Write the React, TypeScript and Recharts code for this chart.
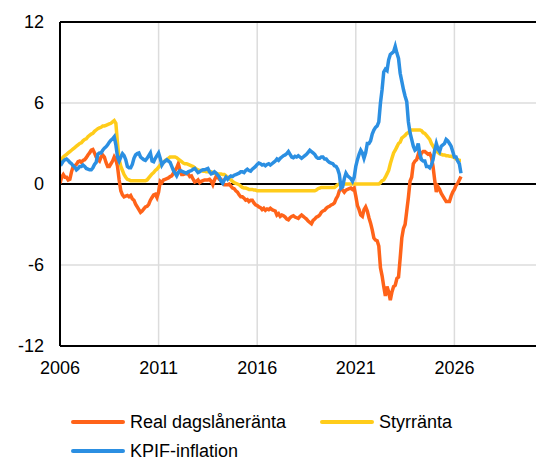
import React from 'react';
import { LineChart, Line, XAxis, YAxis, CartesianGrid, ReferenceLine } from 'recharts';

// monthly observations, Jan 2006 – May 2026
const START_YEAR = 2006;

const realRate = [
  0.05, 0.5, 0.7, 0.5, 0.5, 0.3, 0.35, 0.9, 1.3, 1.35, 1.45, 1.65,
  1.7, 1.6, 1.75, 1.8, 1.95, 2.15, 2.3, 2.5, 2.55, 2.3, 2.0, 1.8,
  1.7, 2.0, 2.15, 2.0, 1.6, 1.3, 1.3, 1.5, 1.7, 2.0, 1.8, 1.3,
  0.3, -0.5, -0.8, -0.95, -0.9, -0.85, -0.95, -0.85, -1.1, -1.2, -1.5, -1.7,
  -1.9, -2.1, -2.0, -1.85, -1.7, -1.65, -1.5, -1.2, -1.0, -0.8, -0.75, -1.0,
  -0.6, 0.2, 0.1, 0.3, 0.35, 0.4, 0.45, 0.55, 0.6, 0.8, 1.0, 1.2,
  1.5, 1.0, 0.7, 0.7, 0.75, 0.8, 0.75, 0.55, 0.6, 0.35, 0.15, 0.2,
  0.3, 0.1, 0.2, 0.25, 0.3, 0.3, 0.3, 0.35, 0.2, -0.05, 0.3, 0.55,
  0.5, 0.35, 0.35, 0.1, -0.05, -0.05, -0.05, 0.0, -0.15, -0.3, -0.35, -0.5,
  -0.6, -0.8, -0.95, -0.95, -1.05, -1.2, -1.15, -1.3, -1.2, -1.2, -1.4, -1.55,
  -1.6, -1.7, -1.75, -1.9, -1.8, -1.95, -1.85, -1.9, -1.8, -1.9, -1.95, -2.0,
  -2.3, -2.2, -2.4, -2.3, -2.35, -2.45, -2.6, -2.65, -2.5, -2.4, -2.35, -2.45,
  -2.5, -2.55, -2.4, -2.3, -2.4, -2.5, -2.6, -2.75, -2.85, -2.95, -2.7, -2.6,
  -2.45, -2.4, -2.3, -2.1, -2.0, -1.95, -1.8, -1.7, -1.65, -1.55, -1.5, -1.4,
  -1.1, -0.9, -0.5, -0.35, -0.45, -0.6, -0.45, -0.4, -0.35, -0.3, -0.4, -0.3,
  -0.9, -1.6, -1.9, -2.3, -2.4, -1.9, -1.7, -2.0, -2.5, -2.9, -3.4, -4.0,
  -4.15, -4.2, -4.6, -6.2, -6.8, -7.6, -8.3, -7.6, -8.0, -8.6, -8.0, -7.6,
  -7.5, -7.0, -6.9, -5.5, -4.0, -3.3, -3.0, -2.0, -1.0, 0.2, 0.5, 1.5,
  1.7, 1.8, 2.2, 2.0, 2.3, 2.4, 2.4, 2.3, 2.2, 2.25, 2.0, 1.3,
  0.3, -0.6, -0.2, -0.4, -0.7, -0.9, -1.1, -1.3, -1.3, -1.3, -0.9, -0.6,
  -0.4, -0.1, 0.05, 0.3, 0.55,
];

const styrranta = [
  1.75, 1.85, 2.0, 2.1, 2.2, 2.3, 2.4, 2.5, 2.6, 2.7, 2.8, 2.9,
  3.0, 3.05, 3.2, 3.3, 3.35, 3.5, 3.6, 3.7, 3.75, 3.9, 4.0, 4.1,
  4.15, 4.2, 4.3, 4.3, 4.35, 4.4, 4.45, 4.5, 4.6, 4.7, 4.5, 3.0,
  1.8, 1.3, 1.0, 0.7, 0.5, 0.35, 0.3, 0.25, 0.25, 0.25, 0.25, 0.25,
  0.25, 0.25, 0.25, 0.25, 0.25, 0.3, 0.45, 0.6, 0.75, 0.85, 1.0, 1.1,
  1.25, 1.4, 1.5, 1.6, 1.75, 1.8, 1.9, 2.0, 2.0, 2.0, 2.0, 1.95,
  1.85, 1.75, 1.65, 1.55, 1.5, 1.5, 1.45, 1.4, 1.35, 1.3, 1.2, 1.1,
  1.05, 1.0, 1.0, 0.95, 0.95, 0.9, 0.9, 0.9, 0.9, 0.85, 0.8, 0.8,
  0.75, 0.75, 0.75, 0.7, 0.7, 0.6, 0.5, 0.4, 0.3, 0.2, 0.1, 0.05,
  0.0, -0.05, -0.15, -0.25, -0.3, -0.3, -0.35, -0.4, -0.4, -0.4, -0.45, -0.45,
  -0.5, -0.5, -0.5, -0.5, -0.5, -0.5, -0.5, -0.5, -0.5, -0.5, -0.5, -0.5,
  -0.5, -0.5, -0.5, -0.5, -0.5, -0.5, -0.5, -0.5, -0.5, -0.5, -0.5, -0.5,
  -0.5, -0.5, -0.5, -0.5, -0.5, -0.5, -0.5, -0.5, -0.5, -0.5, -0.5, -0.5,
  -0.45, -0.35, -0.3, -0.25, -0.25, -0.25, -0.25, -0.25, -0.25, -0.25, -0.25, -0.25,
  -0.15, -0.05, 0, 0, 0, 0, 0, 0, 0, 0, 0, 0,
  0, 0, 0, 0, 0, 0, 0, 0, 0, 0, 0, 0,
  0, 0, 0, 0.1, 0.25, 0.3, 0.5, 0.75, 1.0, 1.5, 1.9, 2.3,
  2.5, 2.75, 3.0, 3.1, 3.4, 3.5, 3.6, 3.75, 3.8, 3.95, 4.0, 4.0,
  4.0, 4.0, 4.0, 4.0, 3.95, 3.8, 3.75, 3.6, 3.45, 3.3, 3.0, 2.8,
  2.6, 2.45, 2.35, 2.25, 2.2, 2.15, 2.15, 2.1, 2.1, 2.05, 2.05, 2.0,
  1.95, 1.85, 1.8, 1.75, 1.75,
];

const kpif = [
  1.65, 1.5, 1.7, 1.8, 1.85, 1.75, 1.6, 1.5, 1.35, 1.25, 1.05, 1.15,
  1.3, 1.3, 1.4, 1.3, 1.15, 1.1, 1.05, 1.05, 1.2, 1.45, 1.6, 2.2,
  2.3, 2.3, 2.5, 2.65, 2.75, 2.9, 3.1, 3.25, 3.35, 3.5, 2.9, 2.0,
  1.7, 2.0, 2.25, 2.1, 1.8, 1.3, 1.2, 1.2, 1.45, 1.9, 2.15, 2.25,
  2.3, 2.0, 1.9, 1.8, 1.75, 1.9, 2.1, 2.3, 1.7, 1.65, 1.9, 2.1,
  2.3, 1.9, 1.4, 1.6, 1.7, 1.8, 1.7, 1.6, 1.3, 1.0, 0.8, 0.6,
  0.85, 1.0, 0.95, 0.9, 0.85, 0.8, 0.9, 0.95, 1.0, 1.1, 1.15, 1.0,
  0.85, 0.9, 1.0, 1.05, 1.05, 1.1, 1.15, 0.9, 0.75, 0.8, 0.9, 0.8,
  0.65, 0.5, 0.2, 0.05, 0.3, 0.5, 0.35, 0.5, 0.6, 0.55, 0.65, 0.7,
  0.75, 0.8, 0.9, 0.9, 0.85, 1.0, 1.1, 1.0, 0.95, 1.1, 1.2, 1.3,
  1.45, 1.55, 1.5, 1.4, 1.45, 1.35, 1.45, 1.5, 1.4, 1.5, 1.6, 1.7,
  1.85, 1.75, 1.9, 2.0, 2.1, 2.15, 2.25, 2.4, 2.2, 2.0, 1.95, 2.05,
  2.0, 2.1, 2.0, 1.9, 2.0, 2.1, 2.2, 2.35, 2.5, 2.4, 2.3, 2.2,
  2.0, 1.9, 1.9, 2.0, 2.0, 1.85, 1.85, 1.7, 1.6, 1.55, 1.5, 1.35,
  1.3, 1.1, 0.7, -0.3, -0.2, 0.4, 0.8, 0.6, 0.5, 0.4, 0.2, 0.5,
  1.3, 1.8, 2.2, 2.5, 2.3, 1.9, 2.3, 3.0, 3.0, 3.2, 3.7, 4.0,
  4.2, 4.3, 4.6, 6.0, 7.0, 8.3, 8.5, 8.4, 9.2, 9.6, 9.7, 9.8,
  10.2, 9.7, 9.3, 8.2, 7.6, 7.0, 6.5, 6.1, 4.6, 3.8, 3.3, 2.8,
  2.5, 2.6, 3.0, 2.2, 1.8, 1.7, 1.7, 1.3, 1.3, 1.2, 1.4, 1.8,
  2.5, 3.0, 2.6, 2.4, 2.8, 2.9, 3.0, 3.3, 3.2, 3.0, 2.8, 2.4,
  2.0, 2.0, 1.7, 1.5, 0.8,
];

const xTicks = [2006, 2011, 2016, 2021, 2026];
const yTicks = [-12, -6, 0, 6, 12];

const series = [
  { key: 'real', name: 'Real dagslåneränta', color: '#ff6319' },
  { key: 'styr', name: 'Styrränta', color: '#ffcc1a' },
  { key: 'kpif', name: 'KPIF-inflation', color: '#2b8fe2' },
];

const data = kpif.map((v, i) => ({
  t: START_YEAR + i / 12,
  real: realRate[i],
  styr: styrranta[i],
  kpif: v,
}));

const font = '"Liberation Sans", Arial, sans-serif';
const tickStyle = { fill: '#000', fontSize: 18, fontFamily: font };

const legendPos = [
  { left: 63, top: 402 },
  { left: 312, top: 402 },
  { left: 63, top: 431 },
];

export default function App() {
  return (
    <div style={{ position: 'relative', width: 536, height: 450, overflow: 'hidden', fontFamily: font }}>
      <LineChart width={560} height={380} data={data} margin={{ top: 14, right: 15, bottom: 12, left: 0 }}>
        <CartesianGrid stroke="#dcdcdc" strokeWidth={1.5} />
        <XAxis
          type="number"
          dataKey="t"
          domain={[2006, 2031]}
          ticks={xTicks}
          allowDataOverflow
          tick={tickStyle}
          tickLine={false}
          tickSize={0}
          tickMargin={15}
          height={30}
          axisLine={{ stroke: '#000', strokeWidth: 2 }}
        />
        <YAxis
          domain={[-12, 12]}
          ticks={yTicks}
          tick={tickStyle}
          tickLine={false}
          tickSize={0}
          tickMargin={16}
          width={52}
          axisLine={{ stroke: '#000', strokeWidth: 2 }}
        />
        <ReferenceLine y={12} stroke="#000" strokeWidth={2} />
        <ReferenceLine y={0} stroke="#000" strokeWidth={2} />
        {series.map(s => (
          <Line
            key={s.key}
            type="linear"
            dataKey={s.key}
            name={s.name}
            stroke={s.color}
            strokeWidth={3.5}
            dot={false}
            isAnimationActive={false}
          />
        ))}
      </LineChart>
      {series.map((s, i) => (
        <div
          key={s.key}
          style={{
            position: 'absolute',
            left: legendPos[i].left,
            top: legendPos[i].top,
            height: 24,
            display: 'flex',
            alignItems: 'center',
            fontSize: 18,
            color: '#000',
            whiteSpace: 'nowrap',
          }}
        >
          <span style={{ display: 'inline-block', width: 54, height: 4, borderRadius: 2, background: s.color, marginRight: 5 }} />
          <span>{s.name}</span>
        </div>
      ))}
    </div>
  );
}
